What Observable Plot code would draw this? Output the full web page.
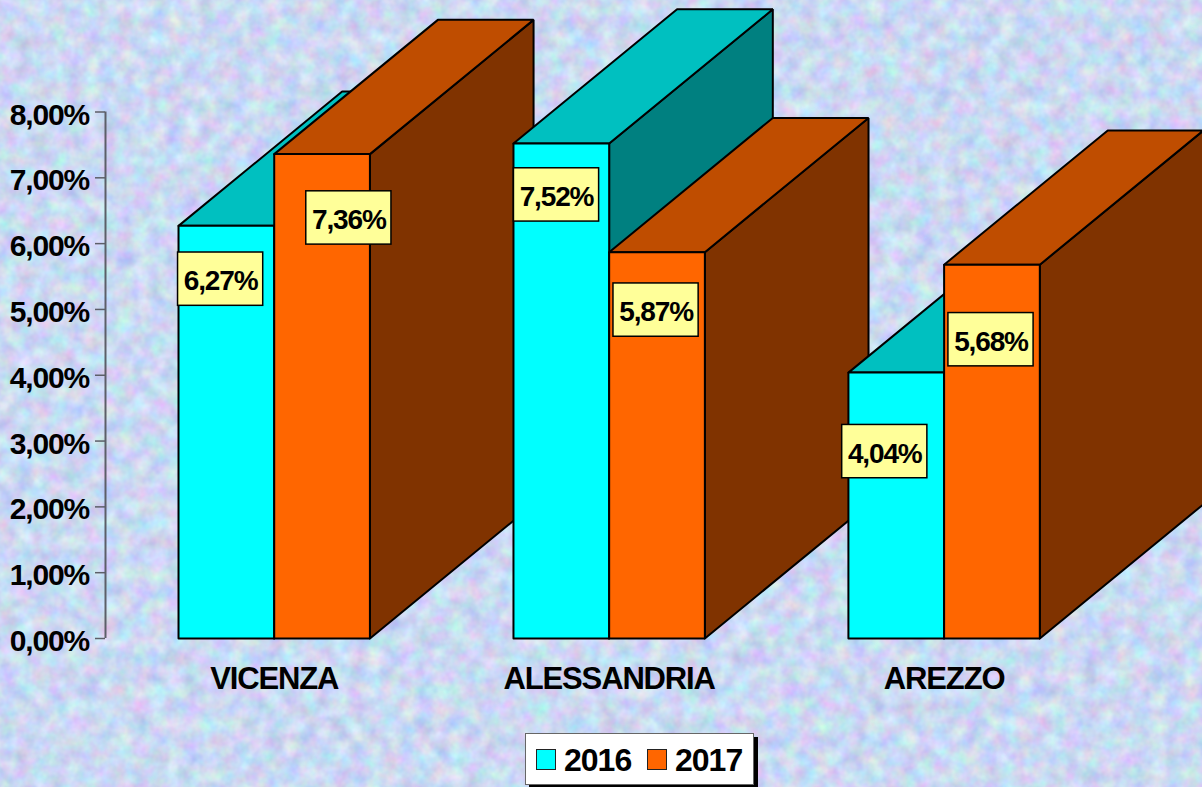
<!DOCTYPE html>
<html>
<head>
<meta charset="utf-8">
<script src="https://cdn.jsdelivr.net/npm/d3@7"></script>
<script src="https://cdn.jsdelivr.net/npm/@observablehq/plot@0.6"></script>
<style>
html,body{margin:0;padding:0;width:1202px;height:787px;overflow:hidden;font-family:"Liberation Sans",Arial,sans-serif}
#bg{position:absolute;left:0;top:0;width:1202px;height:787px;background:#c9daf6}
#bg svg{display:block}
#chart{position:absolute;left:0;top:0}
#chart text{letter-spacing:-1.15px}
#legend{position:absolute;left:525px;top:733px;width:229px;height:52px;box-sizing:border-box;background:#fff;border:1.5px solid #666;box-shadow:4px 4px 0 #000;font-weight:700;font-size:32px;color:#000;letter-spacing:-1px}
#legend i{position:absolute;top:15px;width:18px;height:19px;border:1.5px solid #222;box-sizing:content-box}
#legend span{position:absolute;top:8px;line-height:36px}
</style>
</head>
<body>
<div id="bg"><svg width="1202" height="787">
<filter id="n" x="0" y="0" width="100%" height="100%" color-interpolation-filters="sRGB">
<feTurbulence type="fractalNoise" baseFrequency="0.06" numOctaves="3" seed="7"/>
<feColorMatrix type="matrix" values="0.32 0 0 0 0.635  0 0.3 0 0 0.70  0 0 0.18 0 0.86  0 0 0 0 1"/>
</filter>
<rect width="1202" height="787" filter="url(#n)"/>
</svg></div>
<div id="chart"></div>
<div id="legend"></div>
<script>
const categories = ["VICENZA", "ALESSANDRIA", "AREZZO"];
const years = ["2016", "2017"];
const values2016 = [6.27, 7.52, 4.04];
const values2017 = [7.36, 5.87, 5.68];
const yTicks = [0, 1, 2, 3, 4, 5, 6, 7, 8];

const palette = {
  "2016": {front: "#00FFFF", top: "#00C0C0", side: "#008080"},
  "2017": {front: "#FF6600", top: "#BF4D00", side: "#803300"}
};
// x is measured in bar widths; 3D depth in x units and y units
const groupStep = 3.5, depthX = 1.71, depthY = 2.04;
// label box centre relative to bar: along x from bar left, down from bar top
const labelAlong = {"2016": [0.44, 0.45, 0.38], "2017": [0.78, 0.49, 0.49]};
const labelDrop = {"2016": [0.81, 0.78, 1.20], "2017": [0.97, 0.88, 1.14]};
const boxW = 0.89, boxH = 0.81;

const fmt = v => v.toFixed(2).replace(".", ",") + "%";
const series = {"2016": values2016, "2017": values2017};

const bars = [];
categories.forEach((c, i) => years.forEach((yr, s) => {
  bars.push({c, i, yr, x0: i * groupStep + s, v: series[yr][i]});
}));

const polys = [];
function poly(id, color, pts) {
  [...pts, pts[0]].forEach(([x, y]) => polys.push({id, color, x, y}));
}
bars.forEach((b, k) => {
  const l = b.x0, r = b.x0 + 1, v = b.v, p = palette[b.yr];
  poly(k + "s", p.side, [[r, 0], [r + depthX, depthY], [r + depthX, v + depthY], [r, v]]);
  poly(k + "t", p.top, [[l, v], [l + depthX, v + depthY], [r + depthX, v + depthY], [r, v]]);
  poly(k + "f", p.front, [[l, 0], [r, 0], [r, v], [l, v]]);
});

const labels = bars.map(b => ({
  text: fmt(b.v),
  cx: b.x0 + labelAlong[b.yr][b.i],
  cy: b.v - labelDrop[b.yr][b.i]
}));

const font = '"Liberation Sans", Arial, sans-serif';
const plot = Plot.plot({
  width: 1202,
  height: 787,
  marginLeft: 105,
  marginRight: 0,
  marginTop: 111.5,
  marginBottom: 149,
  style: {background: "transparent", fontFamily: font, overflow: "hidden"},
  x: {type: "linear", domain: [-0.763, 10.7]},
  y: {domain: [0, 8]},
  color: {type: "identity"},
  marks: [
    Plot.ruleX([-0.763], {y1: 0, y2: 8, stroke: "#5c5f68", strokeWidth: 2}),
    Plot.axisY({
      ticks: yTicks, tickFormat: () => "", tickSize: 10, stroke: "#5c5f68", strokeWidth: 1.5, label: null
    }),
    Plot.axisY({
      ticks: yTicks, tickFormat: fmt, tickSize: 0, tickPadding: 16.5,
      fill: "#000", fontSize: 30, fontWeight: 700, label: null, dy: 3
    }),
    Plot.axisX({
      ticks: categories.map((c, i) => i * groupStep + 1),
      tickFormat: (d, i) => categories[i],
      tickSize: 0, tickPadding: 28, fontSize: 31, fontWeight: 700, fill: "#000", label: null
    }),
    Plot.line(polys, {
      x: "x", y: "y", z: "id", fill: "color", stroke: "#000",
      strokeWidth: 2, strokeLinejoin: "miter", curve: "linear"
    }),
    Plot.rect(labels, {
      x1: d => d.cx - boxW / 2, x2: d => d.cx + boxW / 2,
      y1: d => d.cy - boxH / 2, y2: d => d.cy + boxH / 2,
      fill: "#FFFF99", stroke: "#000", strokeWidth: 1.5
    }),
    Plot.text(labels, {
      x: "cx", y: "cy", text: "text", fontSize: 28, fontWeight: 700, fill: "#000", lineAnchor: "middle", dy: 2
    })
  ]
});
document.getElementById("chart").appendChild(plot);

const legend = document.getElementById("legend");
const lx = [{sw: 10, tx: 38}, {sw: 121, tx: 149}];
years.forEach((yr, i) => {
  const sw = document.createElement("i");
  sw.style.left = lx[i].sw + "px";
  sw.style.background = palette[yr].front;
  const t = document.createElement("span");
  t.style.left = lx[i].tx + "px";
  t.textContent = yr;
  legend.append(sw, t);
});
</script>
</body>
</html>
